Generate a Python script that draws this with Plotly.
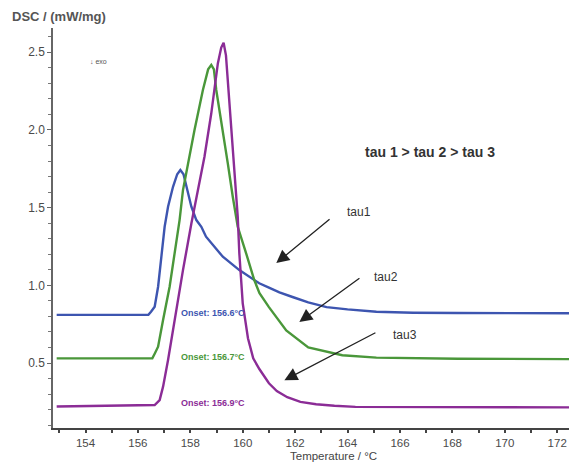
import plotly.graph_objects as go

# ---- data ----
blue_x = [152.9, 156.40, 156.50, 156.64, 156.77, 156.90, 157.02, 157.15, 157.34, 157.50, 157.62,
          157.74, 157.85, 158.04, 158.23, 158.42, 158.60, 159.24, 159.87, 160.63, 161.00, 161.40,
          161.90, 162.50, 163.20, 164.00, 165.10, 166.50, 168.20, 172.50]
blue_y = [0.810, 0.810, 0.830, 0.862, 0.991, 1.206, 1.377, 1.506, 1.634, 1.715, 1.742,
          1.715, 1.634, 1.506, 1.420, 1.377, 1.313, 1.184, 1.098, 1.013, 0.985, 0.955,
          0.925, 0.890, 0.860, 0.845, 0.830, 0.824, 0.822, 0.820]

green_x = [152.9, 156.55, 156.64, 156.77, 156.96, 157.21, 157.40, 157.59, 157.72, 157.91, 158.16,
           158.48, 158.68, 158.80, 158.90, 158.99, 159.24, 159.43, 159.62, 159.81, 160.13, 160.44,
           160.64, 161.00, 161.66, 162.50, 163.80, 165.10, 168.20, 172.50]
green_y = [0.530, 0.530, 0.560, 0.605, 0.777, 0.991, 1.206, 1.420, 1.613, 1.785, 1.999,
           2.257, 2.390, 2.418, 2.390, 2.257, 1.999, 1.785, 1.570, 1.377, 1.206, 1.034,
           0.950, 0.860, 0.710, 0.600, 0.550, 0.535, 0.528, 0.525]

purple_x = [152.9, 156.64, 156.83, 156.96, 157.15, 157.40, 157.72, 158.04, 158.29, 158.54, 158.80,
            159.05, 159.18, 159.27, 159.36, 159.43, 159.56, 159.68, 159.81, 159.87, 160.00, 160.20,
            160.40, 160.64, 161.00, 161.30, 161.70, 162.20, 162.80, 163.50, 164.30, 172.50]
purple_y = [0.220, 0.230, 0.262, 0.348, 0.519, 0.777, 1.098, 1.398, 1.613, 1.828, 2.107,
            2.428, 2.530, 2.561, 2.480, 2.320, 1.999, 1.742, 1.440, 1.206, 0.884, 0.660,
            0.530, 0.460, 0.370, 0.320, 0.280, 0.250, 0.235, 0.225, 0.218, 0.215]

onset_labels = ["Onset: 156.6°C", "Onset: 156.7°C", "Onset: 156.9°C"]
tau_labels = ["tau1", "tau2", "tau3"]
x_ticks = [154, 156, 158, 160, 162, 164, 166, 168, 170, 172]
y_ticks = [0.5, 1.0, 1.5, 2.0, 2.5]

BLUE = "#3d55b0"
GREEN = "#4a973a"
PURPLE = "#8b2c96"
FONT = "Liberation Sans, Arial, sans-serif"

W, H = 569, 463
L, R, T, B = 53, 0, 28, 35
pw, ph = W - L - R, H - T - B


def px(xp):
    return (xp - L) / pw


def py(yp):
    return 1 - (yp - T) / ph


fig = go.Figure()
for xs, ys, c in [(blue_x, blue_y, BLUE), (green_x, green_y, GREEN), (purple_x, purple_y, PURPLE)]:
    fig.add_trace(go.Scatter(x=xs, y=ys, mode="lines", line=dict(color=c, width=2.4),
                             showlegend=False, hoverinfo="skip"))

ann = []
# onset labels
for txt, yv, c in zip(onset_labels, [0.822, 0.539, 0.243], [BLUE, GREEN, PURPLE]):
    ann.append(dict(x=157.56, y=yv, xref="x", yref="y", text="<b>" + txt + "</b>", showarrow=False,
                    xanchor="left", yanchor="middle", font=dict(family=FONT, size=9, color=c)))
# arrows
for (hx, hy, tx, ty) in [(161.28, 1.143, 163.37, 1.433), (162.16, 0.764, 164.51, 1.053),
                         (161.59, 0.39, 165.12, 0.70)]:
    ann.append(dict(x=hx, y=hy, ax=tx, ay=ty, xref="x", yref="y", axref="x", ayref="y", text="",
                    showarrow=True, arrowhead=2, arrowsize=2, arrowwidth=1.3, arrowcolor="#222"))
# tau labels
for txt, xv, yv in zip(tau_labels, [164.44, 165.46, 166.19], [1.47, 1.053, 0.68]):
    ann.append(dict(x=xv, y=yv, xref="x", yref="y", text=txt, showarrow=False,
                    font=dict(family=FONT, size=12, color="#333")))
ann.append(dict(x=167.14, y=1.858, xref="x", yref="y", text="<b>tau 1 &gt; tau 2 &gt; tau 3</b>",
                showarrow=False, font=dict(family=FONT, size=14, color="#333")))
# axis titles and exo marker
ann.append(dict(x=px(10), y=py(17), xref="paper", yref="paper", text="<b>DSC / (mW/mg)</b>",
                showarrow=False, xanchor="left", yanchor="middle",
                font=dict(family=FONT, size=13, color="#555")))
ann.append(dict(x=163.45, y=py(464), xref="x", yref="paper", text="Temperature / °C",
                showarrow=False, yanchor="bottom", font=dict(family=FONT, size=11.5, color="#444")))
ann.append(dict(x=px(88), y=py(56), xref="paper", yref="paper", text="↓ exo", showarrow=False,
                font=dict(family=FONT, size=7, color="#555")))

fig.update_layout(
    width=W, height=H, margin=dict(l=L, r=R, t=T, b=B, pad=0),
    paper_bgcolor="white", plot_bgcolor="white",
    annotations=ann,
    font=dict(family=FONT),
    xaxis=dict(range=[152.76, 172.45], tickvals=x_ticks, showgrid=False, zeroline=False,
               showline=True, linecolor="#444", linewidth=1.5, ticks="outside", ticklen=3,
               tickcolor="#444", tickwidth=1.5,
               tickfont=dict(family=FONT, size=11.5, color="#4a4a4a"),
               minor=dict(dtick=1, ticks="outside", ticklen=3, tickcolor="#444", tickwidth=1.5)),
    yaxis=dict(range=[0.082, 2.656], tickvals=y_ticks, tickformat=".1f", showgrid=False,
               zeroline=False, showline=True, linecolor="#666", linewidth=1.5, ticks="outside",
               ticklen=4, tickcolor="#666", tickwidth=1.2,
               tickfont=dict(family=FONT, size=12, color="#4a4a4a"),
               minor=dict(dtick=0.1, ticks="outside", ticklen=3, tickcolor="#777", tickwidth=1)),
)

fig.write_html("out.html", config={"displayModeBar": False},
               post_script="document.body.style.margin='0';document.body.style.overflow='hidden';")
